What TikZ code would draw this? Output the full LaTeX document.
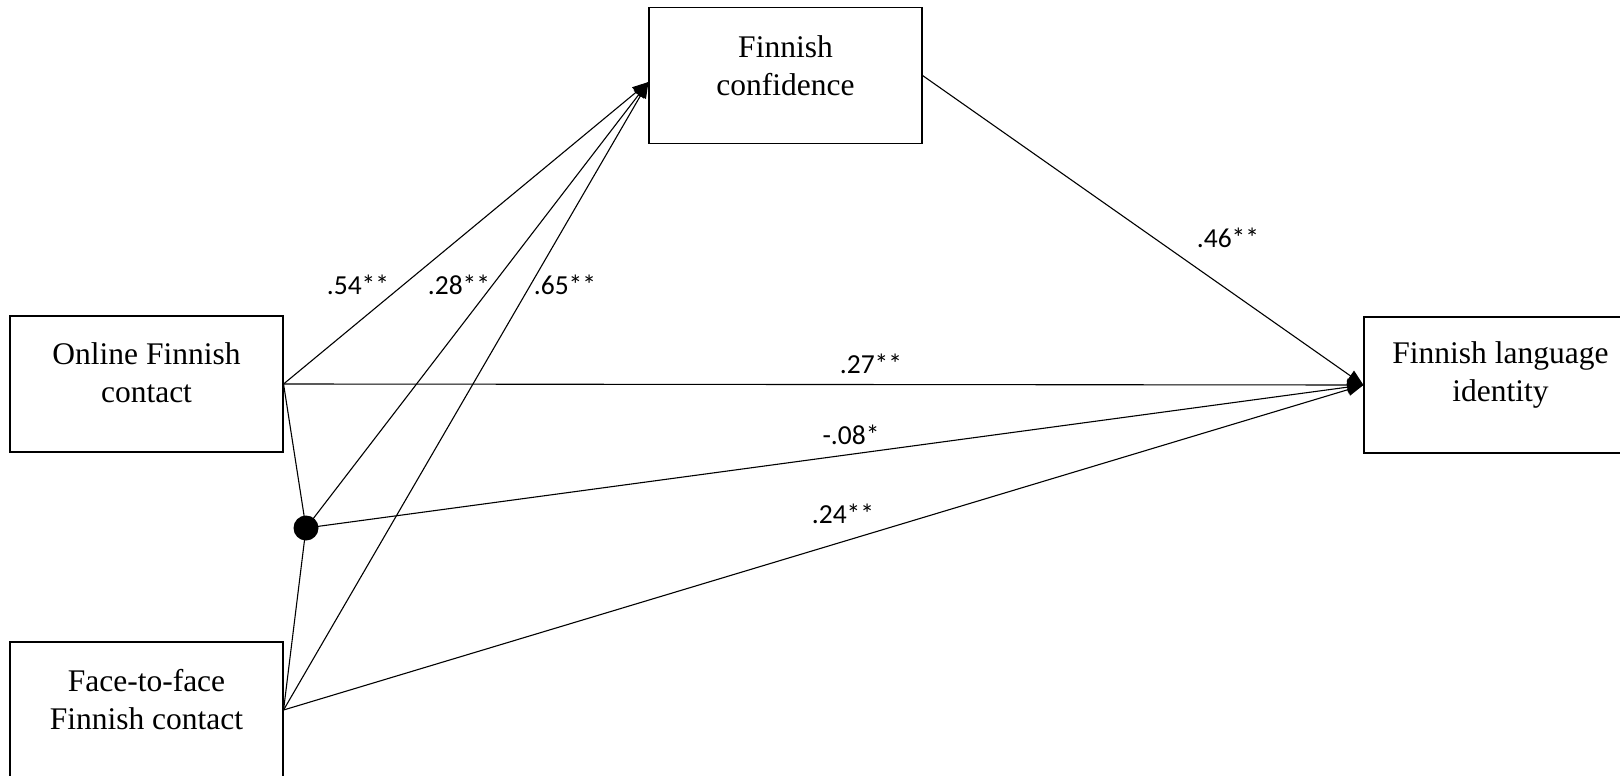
\documentclass[tikz,border=0pt]{standalone}
\usepackage{fontspec}
\setmainfont{Liberation Serif}
\newfontfamily\coeffont{Carlito}
\usetikzlibrary{arrows.meta}

\tikzset{
  var/.style={draw, line width=1.1pt, minimum width=273pt, minimum height=136pt, inner sep=0pt},
  vartext/.style={align=center, font=\fontsize{31.5}{38}\selectfont, inner sep=0pt},
  coef/.style={font=\coeffont\fontsize{27.5}{33}\selectfont, inner sep=0pt},
  link/.style={line width=1.1pt, -{Triangle[length=16pt,width=12.5pt]}},
  plain/.style={line width=1.1pt}
}

\begin{document}
\begin{tikzpicture}[x=1pt, y=-1pt]
    \useasboundingbox (0,0) rectangle (1620,776);
      \node[var] (conf) at (785.5,75.5) {};
      \node[var] (online) at (146.5,384) {};
      \node[var] (face) at (146.5,710) {};
      \node[var] (ident) at (1500.5,385) {};
      \node[circle, fill, minimum size=25pt, inner sep=0pt] (dot) at (306,528) {};
      \node[vartext] (conftext) at ([yshift=10pt]conf.center) {Finnish\\confidence};
      \node[vartext] (onlinetext) at ([yshift=11pt]online.center) {Online Finnish\\contact};
      \node[vartext] (facetext) at ([yshift=10pt]face.center) {Face-to-face\\Finnish contact};
      \node[vartext] (identtext) at ([yshift=10pt]ident.center) {Finnish language\\identity};
    \draw [plain] (online.east) -- (dot.center) -- (face.east);
    \draw [link] (online.east) to ([yshift=-6.5pt]conf.west);
    \draw [link] (dot.center) to ([yshift=-6.5pt]conf.west);
    \draw [link] (face.east) to ([yshift=-6.5pt]conf.west);
    \draw [link] (conf.east) to (ident.west);
    \draw [link] (online.east) to (ident.west);
    \draw [link] (dot.center) to (ident.west);
    \draw [link] (face.east) to (ident.west);
      \node[coef] (c54) at (358,285) {.54**};
      \node[coef] (c28) at (459,285) {.28**};
      \node[coef] (c65) at (565,285) {.65**};
      \node[coef] (c46) at (1228,238) {.46**};
      \node[coef] (c27) at (871,364) {.27**};
      \node[coef] (c08) at (851,435) {-.08*};
      \node[coef] (c24) at (843,514) {.24**};
\end{tikzpicture}
\end{document}
